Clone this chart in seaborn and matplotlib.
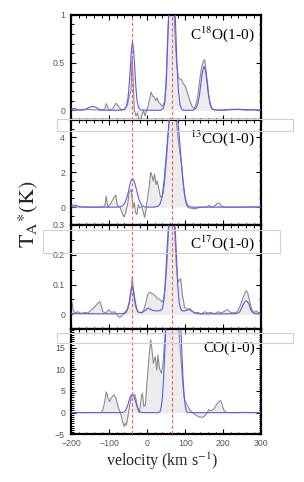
import numpy as np
import matplotlib
matplotlib.use("Agg")
import matplotlib.pyplot as plt
from matplotlib.patches import Rectangle
from matplotlib.ticker import MultipleLocator
import seaborn as sns


# ---------------------------
# Data
# ---------------------------

# C18O(1-0): observed (grey) and fit (blue)
v_c18o_obs = [-200, -180, -160, -140, -120, -112, -108, -103, -99, -90, -82, -76, -70, -60, -52, -47, -43,
              -40, -37, -34, -30, -26, -22, -18, -14, -10, -6, -2, 2, 6, 10, 14, 18, 22, 26, 30, 34, 38,
              42, 46, 50, 54, 58, 62, 66, 70, 74, 78, 82, 86, 90, 95, 100, 106, 112, 118, 123, 128, 133,
              138, 143, 148, 151, 155, 158, 162, 166, 172, 180, 200, 220, 240, 260, 280, 300]
t_c18o_obs = [0.005, 0.0, 0.01, 0.005, 0.0, 0.01, 0.07, 0.02, 0.0, 0.02, 0.075, 0.04, 0.01, 0.005, 0.06, 0.16,
              0.2, 0.55, 0.3, 0.0, -0.06, -0.03, -0.1, -0.12, -0.05, 0.0, -0.06, 0.0, 0.04, 0.12, 0.19, 0.15,
              0.14, 0.1, 0.13, 0.08, 0.07, 0.04, 0.06, 0.1, 0.35, 0.8, 1.15, 1.3, 1.25, 1.05, 0.7, 0.45, 0.34,
              0.33, 0.32, 0.28, 0.25, 0.18, 0.1, 0.04, 0.02, 0.06, 0.15, 0.32, 0.45, 0.52, 0.53, 0.4, 0.3,
              0.15, 0.06, 0.01, 0.005, 0.0, 0.01, 0.01, 0.0, 0.005, 0.0]
v_c18o_fit = [-200, -192, -182, -165, -150, -143, -135, -125, -110, -70, -60, -55, -51, -48, -45, -42, -39,
              -36, -33, -30, -27, -23, -18, 0, 35, 42, 46, 50, 54, 58, 62, 66, 70, 74, 78, 82, 86, 90, 95,
              120, 128, 133, 137, 141, 145, 149, 153, 157, 161, 165, 169, 175, 185, 240, 300]
t_c18o_fit = [0.01, 0.02, 0.005, 0.005, 0.035, 0.04, 0.03, 0.005, 0.0, 0.0, 0.01, 0.04, 0.12, 0.25, 0.42,
              0.62, 0.72, 0.63, 0.44, 0.24, 0.1, 0.03, 0.005, 0.0, 0.0, 0.02, 0.08, 0.3, 0.75, 1.2, 1.5,
              1.55, 1.35, 0.95, 0.5, 0.2, 0.06, 0.015, 0.0, 0.0, 0.02, 0.07, 0.15, 0.28, 0.4, 0.46, 0.42,
              0.3, 0.16, 0.07, 0.02, 0.005, 0.0, 0.01, 0.0]

# 13CO(1-0)
v_13co_obs = [-200, -180, -150, -125, -112, -108, -104, -95, -87, -83, -79, -72, -68, -64, -61, -57, -51,
              -48, -44, -42, -40, -37, -34, -31, -27, -24, -20, -15, -11, -7, -4, 0, 4, 9, 13, 16, 19, 23,
              26, 30, 34, 38, 42, 46, 50, 54, 58, 62, 66, 70, 74, 78, 82, 86, 90, 94, 98, 102, 106, 112,
              125, 140, 155, 164, 168, 176, 184, 190, 196, 205, 240, 270, 300]
t_13co_obs = [0.0, 0.02, 0.0, 0.0, 0.05, 0.63, 0.0, 0.25, 0.6, 0.69, 0.1, 0.0, -0.23, -0.45, -0.56, -0.33,
              0.25, 0.83, 0.95, 1.0, 0.55, 0.0, 0.25, -0.33, -0.42, 0.15, -0.05, 0.05, -0.25, -0.6, -0.25,
              0.44, 1.0, 2.0, 1.75, 1.5, 1.9, 1.3, 1.5, 1.1, 0.63, 0.54, 0.8, 1.5, 2.6, 3.8, 5.0, 5.8, 6.0,
              5.9, 5.3, 4.6, 3.8, 3.1, 2.5, 1.5, 0.7, 0.2, 0.0, -0.05, -0.1, 0.0, 0.0, 0.1, 0.0, 0.05, 0.2,
              0.23, 0.05, 0.0, 0.0, 0.02, 0.0]
v_13co_fit = [-200, -193, -186, -178, -165, -80, -70, -65, -60, -55, -50, -46, -42, -39, -36, -32, -28, -24,
              -20, -16, -12, -8, -3, 15, 24, 29, 34, 39, 44, 49, 54, 59, 64, 69, 74, 79, 84, 89, 94, 99,
              104, 109, 114, 120, 300]
t_13co_fit = [0.05, 0.12, 0.08, 0.01, 0.0, 0.0, 0.02, 0.08, 0.2, 0.45, 0.85, 1.25, 1.55, 1.63, 1.55, 1.3,
              0.95, 0.6, 0.32, 0.15, 0.06, 0.02, 0.005, 0.0, 0.02, 0.07, 0.2, 0.6, 1.5, 2.7, 4.1, 5.3, 6.3,
              6.7, 6.3, 5.3, 4.1, 2.7, 1.5, 0.6, 0.2, 0.05, 0.01, 0.0, 0.0]

# C17O(1-0)
v_c17o_obs = [-198, -195, -191, -182, -174, -165, -156, -147, -139, -132, -125, -121, -117, -108, -102, -95,
              -86, -79, -73, -67, -60, -53, -47, -43, -39.5, -36, -31.6, -26, -20, -14, -9, -3.5, 1.8, 7,
              12, 17.5, 23, 28, 33, 38.6, 43, 47, 52, 56, 60, 64, 68, 72, 76, 81, 88, 92, 98, 105, 111,
              117.5, 124.6, 133, 142, 151, 160, 168, 177, 186, 195, 203.5, 212, 219, 228, 237, 243, 249,
              256, 260.5, 265, 270, 275, 281, 287, 293, 300]
t_c17o_obs = [0.041, 0.016, 0.005, 0.009, 0.003, 0.007, 0.005, 0.016, 0.024, 0.035, 0.043, 0.029, 0.009,
              0.005, 0.016, 0.007, 0.009, -0.002, -0.01, -0.005, 0.007, 0.016, 0.041, 0.075, 0.125, 0.069,
              0.029, 0.011, 0.007, 0.005, 0.016, 0.041, 0.069, 0.075, 0.07, 0.066, 0.059, 0.052, 0.05,
              0.041, 0.052, 0.086, 0.176, 0.278, 0.33, 0.36, 0.34, 0.28, 0.17, 0.108, 0.12, 0.069, 0.024,
              0.016, 0.02, 0.012, 0.005, 0.007, 0.002, 0.009, 0.005, 0.007, 0.002, 0.009, 0.005, 0.011,
              0.016, 0.007, 0.005, 0.009, 0.024, 0.046, 0.069, 0.08, 0.069, 0.041, 0.016, 0.007, 0.011,
              0.005, 0.009]
v_c17o_fit = [-200, -100, -60, -55, -51, -47, -43, -39.5, -36, -32, -28, -24, -20, -12, -6, 0, 4, 8, 14,
              25, 35, 40, 44, 48, 52, 56, 60, 64, 68, 72, 76, 80, 84, 88, 92, 100, 106, 111, 116, 124,
              135, 200, 235, 243, 248, 253, 258, 262, 267, 271, 276, 282, 300]
t_c17o_fit = [0.003, 0.002, 0.003, 0.008, 0.02, 0.045, 0.08, 0.094, 0.08, 0.045, 0.02, 0.008, 0.006,
              0.008, 0.013, 0.02, 0.021, 0.017, 0.013, 0.012, 0.013, 0.02, 0.05, 0.12, 0.22, 0.3, 0.36,
              0.38, 0.36, 0.32, 0.22, 0.1, 0.04, 0.018, 0.012, 0.012, 0.015, 0.017, 0.012, 0.005, 0.002,
              0.002, 0.003, 0.008, 0.02, 0.035, 0.044, 0.045, 0.036, 0.02, 0.008, 0.003, 0.002]

# CO(1-0)
v_co_obs = [-200, -180, -160, -140, -125, -120, -117, -112, -108, -104, -99, -95, -88, -83, -77, -72, -68,
            -64, -61, -58, -55, -51, -47, -42, -38, -33, -29, -25, -22, -20, -16, -13, -9, -5, -1, 4, 9,
            12, 16, 21, 25, 28, 32, 37, 41, 45, 50, 55, 60, 70, 78, 84, 89, 94, 98, 102, 106, 112, 120,
            128, 136, 145, 152, 158, 162, 166, 171, 176, 182, 188, 193, 197, 202, 208, 220, 260, 300]
t_co_obs = [0.0, 0.05, 0.0, 0.05, 0.0, 0.1, 0.6, 2.5, 4.8, 3.6, 2.5, 3.3, 4.1, 3.5, 1.4, 0.2, -0.9, -2.5,
            -3.2, -2.5, -2.9, -0.9, 1.4, 3.7, 4.1, 4.2, 2.8, 1.0, 0.0, 0.6, 3.3, 4.5, 1.4, 1.8, 6.8, 12.2,
            16.8, 14.8, 11.4, 12.9, 9.8, 13.3, 10.2, 9.1, 11.0, 16.0, 22.0, 26.0, 28.0, 28.0, 25.0, 18.0,
            12.0, 6.0, 3.0, 2.2, 1.6, 0.6, 0.0, -0.6, -1.0, -1.1, -0.7, 0.0, 0.7, 0.4, 0.6, 0.9, 1.8, 2.5,
            2.8, 1.8, 0.5, 0.05, 0.0, 0.05, 0.0]
v_co_fit = [-200, -70, -62, -57, -52, -48, -44, -40, -36, -32, -28, -24, -20, -15, -10, 30, 34, 37, 40, 43,
            46, 49, 52, 56, 60, 65, 70, 75, 80, 84, 88, 91, 94, 97, 100, 103, 107, 300]
t_co_fit = [0.0, 0.0, 0.1, 0.5, 1.5, 2.8, 3.8, 4.2, 3.9, 2.9, 1.7, 0.7, 0.2, 0.03, 0.0, 0.0, 0.3, 1.5, 3.8,
            8.0, 14.0, 20.0, 26.0, 30.0, 32.0, 33.0, 33.0, 32.0, 30.0, 26.0, 20.0, 14.0, 8.0, 3.8, 1.5,
            0.3, 0.0, 0.0]

line_names = [r"C$^{18}$O(1-0)", r"$^{13}$CO(1-0)", r"C$^{17}$O(1-0)", "CO(1-0)"]
y_limits = [(-0.1, 1.0), (-1.0, 5.0), (-0.05, 0.3), (-5.0, 19.2)]
y_major = [[0, 0.5, 1], [0, 2, 4], [0, 0.1, 0.2, 0.3], [-5, 0, 5, 10, 15]]
y_major_labels = [["0", "0.5", "1"], ["0", "2", "4"], ["0", "0.1", "0.2", "0.3"],
                  ["\u22125", "0", "5", "10", "15"]]
y_minor = [0.1, 0.5, 0.05, 0.5]
x_ticks = [-200, -100, 0, 100, 200, 300]
x_tick_labels = ["\u2212200", "\u2212100", "0", "100", "200", "300"]
v_markers = [-40, 65]

spectra = [
    (v_c18o_obs, t_c18o_obs, v_c18o_fit, t_c18o_fit),
    (v_13co_obs, t_13co_obs, v_13co_fit, t_13co_fit),
    (v_c17o_obs, t_c17o_obs, v_c17o_fit, t_c17o_fit),
    (v_co_obs, t_co_obs, v_co_fit, t_co_fit),
]


# ---------------------------
# Style
# ---------------------------

sns.set_style("ticks")
plt.rcParams["font.family"] = ["Liberation Serif", "DejaVu Serif"]
plt.rcParams["mathtext.fontset"] = "stix"

fig, axes = plt.subplots(4, 1, figsize=(3.04, 4.82), dpi=100, sharex=True)
fig.subplots_adjust(left=0.2345, right=0.8595, top=0.969, bottom=0.099, hspace=0)


def style_ticklabels(labels):
    for lab in labels:
        lab.set_family("Liberation Sans")
        lab.set_fontsize(6.3)
        lab.set_color("#555555")


for i, ax in enumerate(axes):
    v_obs, t_obs, v_fit, t_fit = spectra[i]

    ax.fill_between(v_obs, t_obs, 0, color="#ececec", lw=0, zorder=1)
    sns.lineplot(x=v_obs, y=t_obs, ax=ax, color="#8c8c8c", lw=0.8,
                 sort=False, estimator=None, zorder=2)
    sns.lineplot(x=v_fit, y=t_fit, ax=ax, color="#5a5af0", lw=0.8,
                 sort=False, estimator=None, zorder=3)
    for v in v_markers:
        ax.axvline(v, color="#ff5a5a", lw=0.8, ls=(0, (3, 2)), zorder=4)

    ax.set_xlim(-200, 300)
    ax.set_ylim(*y_limits[i])
    ax.set_yticks(y_major[i])
    ax.set_yticklabels(y_major_labels[i])
    ax.yaxis.set_minor_locator(MultipleLocator(y_minor[i]))
    ax.set_xticks(x_ticks)
    ax.xaxis.set_minor_locator(MultipleLocator(20))

    ax.tick_params(which="both", direction="in", top=True, right=True, color="black")
    ax.tick_params(which="major", length=3.5, width=0.8, pad=4.5)
    ax.tick_params(which="minor", length=1.8, width=0.7)
    style_ticklabels(ax.get_yticklabels())
    for sp in ax.spines.values():
        sp.set_linewidth(1.6)
        sp.set_color("black")

    ax.set_xlabel("")
    ax.set_ylabel("")
    ax.text(0.965, 0.82, line_names[i], transform=ax.transAxes, ha="right", va="center",
            fontsize=11, color="black", zorder=5)

axes[-1].set_xticklabels(x_tick_labels)
axes[-1].tick_params(axis="x", which="major", pad=3.5)
style_ticklabels(axes[-1].get_xticklabels())

fig.text(0.092, 0.556, r"$\mathrm{T_A{}^{\ast}(K)}$", rotation=90, ha="center", va="center", fontsize=16)
fig.text(0.532, 0.043, r"velocity (km s$^{\mathrm{-1}}$)", ha="center", va="center", fontsize=11.5)

# light grey frames that sit between the panels in the original
for x0, y0, x1, y1 in [(57, 119, 293, 131), (43, 230, 280, 253), (57, 333, 293, 343)]:
    fig.add_artist(Rectangle((x0 / 304, 1 - y1 / 482), (x1 - x0) / 304, (y1 - y0) / 482,
                             transform=fig.transFigure, fill=False, ec="#d0d0d0", lw=0.8, zorder=10))

fig.savefig("out.png", dpi=100)
